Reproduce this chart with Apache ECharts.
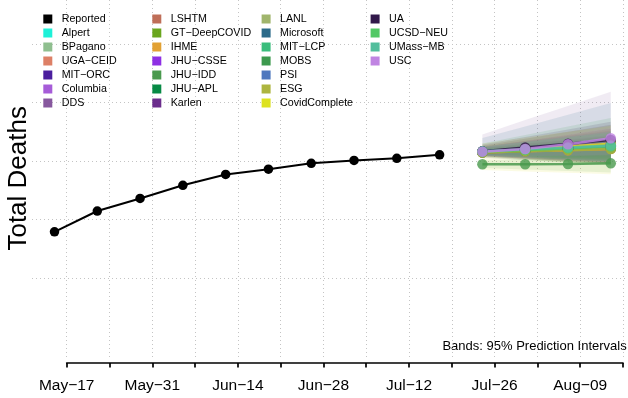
<!DOCTYPE html>
<html><head><meta charset="utf-8">
<script src="https://cdn.jsdelivr.net/npm/echarts@6/dist/echarts.min.js"></script>
<style>html,body{margin:0;padding:0;background:#fff}#c{width:628px;height:398px}</style>
</head><body><div id="c"></div>
<script>
// ---------------- data ----------------
const reportedDates = ['2021-05-15','2021-05-22','2021-05-29','2021-06-05','2021-06-12','2021-06-19','2021-06-26','2021-07-03','2021-07-10','2021-07-17'];
const reportedValues = [55.8, 62.9, 67.2, 71.7, 75.4, 77.2, 79.2, 80.2, 80.9, 82.1];
const forecastDates = ['2021-07-24','2021-07-31','2021-08-07','2021-08-14'];
const modelNames = ['Alpert','BPagano','UGA−CEID','MIT−ORC','Columbia','DDS','LSHTM','GT−DeepCOVID','IHME','JHU−CSSE','JHU−IDD','JHU−APL','Karlen','LANL','Microsoft','MIT−LCP','MOBS','PSI','ESG','CovidComplete','UA','UCSD−NEU','UMass−MB','USC'];
const modelMedians = [
  [83.2, 83.9, 84.5, 85.2],
  [83.1, 83.6, 84.1, 84.6],
  [83.0, 83.5, 83.9, 84.4],
  [83.2, 83.8, 84.4, 85.0],
  [83.3, 84.1, 84.8, 85.6],
  [83.3, 84.2, 85.1, 86.0],
  [83.0, 83.4, 83.8, 84.2],
  [83.1, 83.7, 84.2, 84.8],
  [82.9, 83.3, 83.7, 84.1],
  [83.2, 83.8, 84.4, 85.0],
  [78.9, 78.9, 79.0, 79.2],
  [83.0, 83.5, 84.0, 84.5],
  [83.2, 83.9, 84.7, 85.4],
  [83.1, 83.7, 84.3, 84.9],
  [83.2, 83.9, 84.6, 85.3],
  [83.1, 83.7, 84.2, 84.8],
  [83.0, 83.4, 83.9, 84.3],
  [83.2, 83.8, 84.5, 85.1],
  [82.9, 83.4, 83.8, 84.2],
  [83.2, 84.1, 85.0, 85.9],
  [83.3, 84.6, 85.9, 87.2],
  [83.2, 83.8, 84.4, 85.0],
  [83.3, 84.0, 84.6, 85.3],
  [83.2, 84.1, 85.7, 87.8]
];
const modelLower = [
  [82.2, 81.6, 81.0, 80.4],
  [82.5, 82.0, 81.5, 81.0],
  [81.9, 81.2, 80.6, 80.0],
  [82.4, 81.9, 81.4, 81.0],
  [82.0, 81.3, 80.6, 79.9],
  [81.0, 80.3, 79.7, 79.0],
  [81.6, 80.8, 80.0, 79.2],
  [82.1, 81.4, 80.8, 80.2],
  [82.3, 81.7, 81.1, 80.6],
  [82.0, 81.3, 80.7, 80.1],
  [77.6, 77.1, 76.6, 76.1],
  [82.2, 81.6, 81.0, 80.4],
  [81.8, 81.0, 80.3, 79.6],
  [81.7, 80.9, 80.1, 79.3],
  [81.5, 80.6, 79.8, 79.0],
  [82.3, 81.8, 81.3, 80.8],
  [81.2, 80.3, 79.4, 78.5],
  [81.8, 81.1, 80.4, 79.7],
  [81.4, 80.5, 79.6, 78.7],
  [76.9, 76.4, 76.0, 75.5],
  [81.6, 80.8, 80.0, 79.3],
  [82.0, 81.3, 80.6, 79.9],
  [81.9, 81.2, 80.5, 79.8],
  [81.8, 81.6, 81.8, 82.0]
];
const modelUpper = [
  [84.3, 85.6, 86.9, 88.3],
  [83.9, 84.6, 85.3, 86.0],
  [84.6, 85.9, 87.2, 88.6],
  [84.1, 85.3, 86.5, 87.8],
  [84.8, 86.8, 88.9, 91.0],
  [89.1, 94.0, 98.8, 103.7],
  [85.0, 86.8, 88.6, 90.4],
  [84.5, 85.8, 87.1, 88.5],
  [84.0, 85.0, 86.0, 87.1],
  [84.6, 86.0, 87.4, 88.9],
  [80.1, 80.8, 81.5, 82.3],
  [84.3, 85.3, 86.4, 87.5],
  [85.2, 87.6, 90.0, 92.4],
  [84.9, 86.9, 88.9, 91.0],
  [87.9, 91.8, 95.8, 99.8],
  [84.2, 85.3, 86.4, 87.5],
  [86.0, 88.9, 91.8, 94.7],
  [84.8, 86.6, 88.4, 90.2],
  [85.3, 87.6, 89.9, 92.3],
  [86.0, 88.0, 90.0, 92.0],
  [85.6, 88.2, 90.8, 93.4],
  [84.7, 86.4, 88.0, 89.7],
  [84.9, 86.6, 88.3, 90.0],
  [84.8, 86.8, 89.0, 91.3]
];
const xTickLabels = ['May−17','May−31','Jun−14','Jun−28','Jul−12','Jul−26','Aug−09'];
const axisStartDate = '2021-05-17';

// ---------------- styles ----------------
const modelColors = ['#1EF1D8','#8FBF8F','#DD8066','#4B1E9E','#A65CD8','#87589E','#BF6E58','#6AA61E','#E2A133','#8E2FE4','#4A9A4E','#078A45','#6B2D8C','#A0B56C','#2B6A89','#3ABD7C','#3C994E','#4F78BE','#ADB53F','#DDE21F','#31184A','#52C865','#52BE9C','#C084E2'];
const FONT = "'Liberation Sans', Arial, Helvetica, sans-serif";

function dayNum(d){ return (Date.parse(d + 'T00:00:00Z') - Date.parse(axisStartDate + 'T00:00:00Z')) / 864e5; }
const dotted = {color:'#c4c4c4', width:1, type:[1,3]};

const series = [];
// prediction bands
modelNames.forEach((name, i) => {
  const pts = forecastDates.map((d, k) => [dayNum(d), modelLower[i][k], modelUpper[i][k]]);
  series.push({
    type:'custom', name: name + ' PI', xAxisIndex:0, yAxisIndex:0, silent:true, z:1,
    data: pts,
    encode:{x:0, y:[1,2]},
    renderItem: (params, api) => {
      if (params.dataIndex !== 0) return null;
      const poly = [];
      for (let k = 0; k < pts.length; k++) poly.push(api.coord([pts[k][0], pts[k][2]]));
      for (let k = pts.length - 1; k >= 0; k--) poly.push(api.coord([pts[k][0], pts[k][1]]));
      return {type:'polygon', shape:{points: poly}, style:{fill: modelColors[i], opacity: 0.12}};
    }
  });
});
// reported
series.push({
  type:'line', name:'Reported', xAxisIndex:0, yAxisIndex:0, z:4,
  data: reportedDates.map((d, k) => [dayNum(d), reportedValues[k]]),
  color:'#000', symbol:'circle', symbolSize:9.5, showSymbol:true,
  lineStyle:{color:'#000', width:2}, itemStyle:{color:'#000'}
});
// model medians
modelNames.forEach((name, i) => {
  series.push({
    type:'line', name, xAxisIndex:0, yAxisIndex:0, z:3,
    data: forecastDates.map((d, k) => [dayNum(d), modelMedians[i][k]]),
    color: modelColors[i], symbol:'circle', symbolSize:10.5, showSymbol:true,
    lineStyle:{color: modelColors[i], width:2.5, opacity:0.85},
    itemStyle:{color: modelColors[i], opacity:0.8}
  });
});

const allNames = ['Reported'].concat(modelNames);
const legendCols = [allNames.slice(0,7), allNames.slice(7,14), allNames.slice(14,21), allNames.slice(21)];
const legendLefts = [43.3, 152.3, 261.6, 370.6];
const legends = legendCols.map((names, c) => ({
  show:true, orient:'vertical', left: legendLefts[c], top: 12, padding:0,
  itemWidth:9, itemHeight:9, itemGap:0, icon:'rect', selectedMode:false,
  itemStyle:{opacity:1},
  data: names,
  textStyle:{fontFamily:FONT, fontSize:10.7, color:'#000', lineHeight:14, padding:[0,0,0,4.4]}
}));

const chart = echarts.init(document.getElementById('c'), null, {renderer:'canvas'});
chart.setOption({
  animation:false,
  backgroundColor:'#fff',
  textStyle:{fontFamily:FONT},
  legend: legends,
  grid:[
    {left:32, right:0, top:44, bottom:120},
    {left:66.7, right:5, top:0, bottom:40},
    {left:66.7, right:5, top:300, bottom:35}
  ],
  xAxis:[
    {type:'value', gridIndex:0, min:-5.68, max:91.82, show:false},
    {type:'value', gridIndex:1, min:0, max:91, interval:7,
     axisLine:{show:false}, axisTick:{show:false}, axisLabel:{show:false},
     splitLine:{show:true, lineStyle:dotted}},
    {type:'value', gridIndex:2, min:0, max:91, interval:7, position:'bottom',
     axisLine:{show:true, lineStyle:{color:'#000', width:1.7}},
     axisTick:{show:true, inside:false, length:4.5, lineStyle:{color:'#000', width:1.7}},
     splitLine:{show:false},
     axisLabel:{show:true, margin:15, color:'#000', fontFamily:FONT, fontSize:15.5,
       showMinLabel:true, showMaxLabel:true,
       formatter: v => (Math.round(v) % 14 === 0 ? (xTickLabels[Math.round(v)/14] || '') : '')}}
  ],
  yAxis:[
    {type:'value', gridIndex:0, min:40, max:120, interval:20,
     axisLine:{show:false}, axisTick:{show:false}, axisLabel:{show:false},
     splitLine:{show:true, lineStyle:dotted}},
    {type:'value', gridIndex:1, show:false, splitLine:{show:false}},
    {type:'value', gridIndex:2, show:false, splitLine:{show:false}}
  ],
  graphic:[
    {type:'text', x:19, y:178.3, rotation:Math.PI/2, silent:true,
     style:{text:'Total Deaths', fontFamily:FONT, fontSize:26, fill:'#000', align:'center', verticalAlign:'middle'}},
    {type:'text', x:626.7, y:346, silent:true,
     style:{text:'Bands: 95% Prediction Intervals', fontFamily:FONT, fontSize:13, fill:'#000', align:'right', verticalAlign:'middle'}}
  ],
  series
});
</script></body></html>
